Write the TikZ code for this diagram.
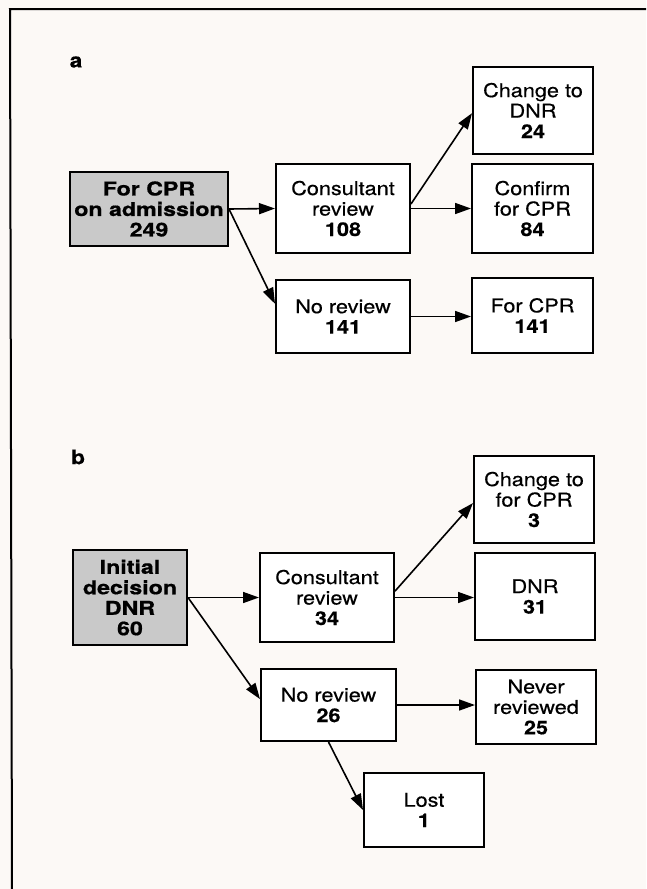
\documentclass[tikz,border=0pt]{standalone}
\usepackage{fontspec}
\setmainfont[FakeStretch=1.14,FakeBold=0.4]{TeX Gyre Heros}
\newfontfamily\heavyfont[FakeStretch=1.22,FakeBold=0.8]{TeX Gyre Heros}
\usetikzlibrary{arrows.meta,calc}
\definecolor{paper}{RGB}{252,249,246}
\begin{document}
\begin{tikzpicture}[x=1pt,y=-1pt,
  box/.style={draw=black,line width=2pt,fill=white,anchor=north west,inner sep=0pt,
    align=center,font=\fontsize{19}{20.5}\selectfont},
  shadebox/.style={box,fill=gray!42,font=\heavyfont\bfseries\fontsize{19}{20.5}\selectfont},
  arr/.style={line width=1.6pt,-{Triangle[length=16pt,width=11pt]}},
  lbl/.style={font=\bfseries\fontsize{20}{20}\selectfont,inner sep=0pt}]
\fill[paper] (0,0) rectangle (646,889);
\useasboundingbox (0,0) rectangle (646,889);
\draw[line width=2pt] (646,9) -- (10,9) -- (12,889);
% panel a
\node[lbl] (la) at (76,62) {a};
\node[shadebox,minimum width=158pt,minimum height=74pt] (a1) at (69,171) {For CPR\\on admission\\249};
\node[box,minimum width=134pt,minimum height=89pt] (a2) at (275,163) {Consultant\\review\\\textbf{108}};
\node[box,minimum width=120pt,minimum height=87pt] (a3) at (472,66) {Change to\\DNR\\\textbf{24}};
\node[box,minimum width=121pt,minimum height=89pt] (a4) at (471,163) {Confirm\\for CPR\\\textbf{84}};
\node[box,minimum width=134pt,minimum height=73pt] (a5) at (275,279) {No review\\\textbf{141}};
\node[box,minimum width=121pt,minimum height=75pt] (a6) at (471,277) {For CPR\\\textbf{141}};
\draw[arr] (a1.east) -- (a2.west);
\draw[arr] (a1.east) -- ($(a5.north west)!0.33!(a5.south west)$);
\draw[arr] ($(a2.north east)!0.45!(a2.south east)$) -- ($(a3.north west)!0.53!(a3.south west)$);
\draw[arr] (a2.east) -- (a2.east -| a4.west);
\draw[arr] (a5.east) -- (a5.east -| a6.west);
% panel b
\node[lbl] (lb) at (78,457) {b};
\node[shadebox,minimum width=114pt,minimum height=95pt] (b1) at (72,549) {Initial\\decision\\DNR\\60};
\node[box,minimum width=134pt,minimum height=89pt] (b2) at (259,552) {Consultant\\review\\\textbf{34}};
\node[box,minimum width=120pt,minimum height=87pt] (b3) at (473,455) {Change to\\for CPR\\\textbf{3}};
\node[box,minimum width=120pt,minimum height=87pt] (b4) at (474,552) {DNR\\\textbf{31}};
\node[box,minimum width=135pt,minimum height=72pt] (b5) at (260,668) {No review\\\textbf{26}};
\node[box,minimum width=120pt,minimum height=74pt] (b6) at (475,669) {Never\\reviewed\\\textbf{25}};
\node[box,minimum width=120pt,minimum height=74pt] (b7) at (363,772) {Lost\\\textbf{1}};
\draw[arr] (b1.east) -- (b2.west);
\draw[arr] (b1.east) -- ($(b5.north west)!0.42!(b5.south west)$);
\draw[arr] ($(b2.north east)!0.43!(b2.south east)$) -- ($(b3.north west)!0.54!(b3.south west)$);
\draw[arr] (b2.east) -- (b2.east -| b4.west);
\draw[arr] (b5.east) -- (b5.east -| b6.west);
\draw[arr] (b5.south) -- (b7.west);
\end{tikzpicture}
\end{document}
